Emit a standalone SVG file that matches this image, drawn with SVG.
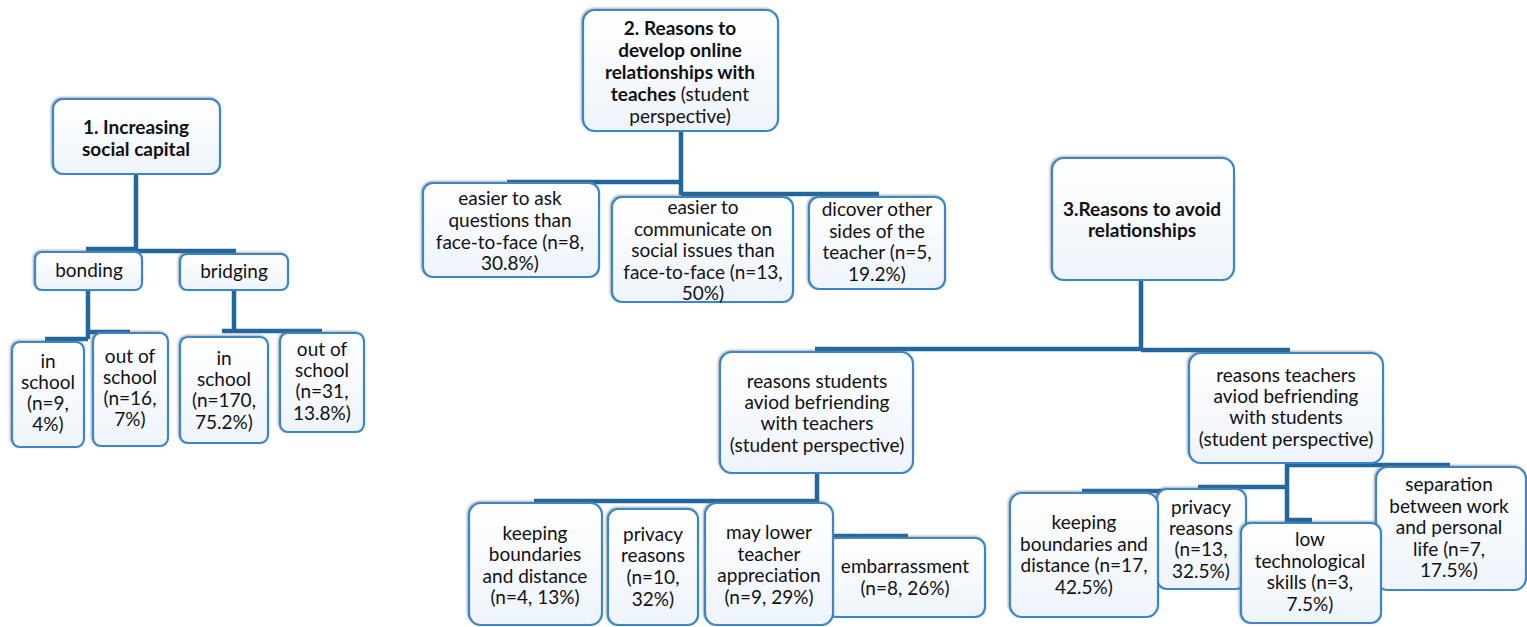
<svg xmlns="http://www.w3.org/2000/svg" width="1527" height="627" viewBox="0 0 1527 627">
<style>
.box{fill:url(#g);stroke:#3b86c6;stroke-width:2.2;filter:url(#sh)}
.t{font-family:Lato,"Liberation Sans",sans-serif;font-size:19px;fill:#111;text-anchor:middle}
.b{font-weight:bold}
.c{fill:none;stroke:#21669f;stroke-width:4.5}
</style>
<defs>
<linearGradient id="g" x1="0" y1="0" x2="0" y2="1">
<stop offset="0" stop-color="#ffffff"/>
<stop offset="1" stop-color="#eef4fb"/>
</linearGradient>
<filter id="sh" x="-10%" y="-10%" width="120%" height="120%">
<feDropShadow dx="-1" dy="-1" stdDeviation="1" flood-color="#666" flood-opacity="0.55"/>
</filter>
</defs>
<rect width="1527" height="627" fill="#fff"/>
<g id="connectors">
<path class="c" d="M136,174 V251 M86,249 H136 M136,251 H236"/>
<path class="c" d="M88,290 V339 M45,339 H88 M88,332 H130"/>
<path class="c" d="M234,290 V331 M222,331 H322"/>
<path class="c" d="M681,131 V195 M507,182 H681 M681,194 H879"/>
<path class="c" d="M1141,280 V350 M815,349 H1141 M1141,350 H1290"/>
<path class="c" d="M817,473 V502 M534,501 H817 M817,502 V536 H908"/>
<path class="c" d="M1287,463 V520 H1312 M1287,465 H1450 M1198,487 H1287 M1082,491 H1198"/>
</g>
<g id="n1"><rect class="box" x="53" y="99" width="167" height="75" rx="10"/>
<text class="t b" x="136" y="134">1. Increasing</text><text class="t b" x="136" y="156">social capital</text></g>
<g id="bonding"><rect class="box" x="35" y="252" width="107" height="38" rx="7"/>
<text class="t" x="89" y="277">bonding</text></g>
<g id="bridging"><rect class="box" x="180" y="254" width="108" height="36" rx="7"/>
<text class="t" x="234" y="278">bridging</text></g>
<g id="b_in"><rect class="box" x="12" y="342" width="72" height="105" rx="8"/>
<text class="t" x="48" y="368">in</text><text class="t" x="48" y="389">school</text><text class="t" x="48" y="410">(n=9,</text><text class="t" x="48" y="431">4%)</text></g>
<g id="b_out"><rect class="box" x="93" y="333" width="75" height="113" rx="8"/>
<text class="t" x="130" y="363">out of</text><text class="t" x="130" y="384">school</text><text class="t" x="130" y="405">(n=16,</text><text class="t" x="130" y="426">7%)</text></g>
<g id="br_in"><rect class="box" x="180" y="337" width="88" height="106" rx="8"/>
<text class="t" x="224" y="365">in</text><text class="t" x="224" y="386">school</text><text class="t" x="224" y="407">(n=170,</text><text class="t" x="224" y="429">75.2%)</text></g>
<g id="br_out"><rect class="box" x="280" y="333" width="84" height="99" rx="8"/>
<text class="t" x="322" y="356">out of</text><text class="t" x="322" y="377">school</text><text class="t" x="322" y="398">(n=31,</text><text class="t" x="322" y="420">13.8%)</text></g>
<g id="n2"><rect class="box" x="583" y="10" width="195" height="121" rx="12"/>
<text class="t b" x="680" y="35">2. Reasons to</text><text class="t b" x="680" y="57">develop online</text><text class="t b" x="680" y="79">relationships with</text>
<text class="t" x="680" y="101"><tspan class="b">teaches</tspan> (student</text><text class="t" x="680" y="123">perspective)</text></g>
<g id="ask"><rect class="box" x="423" y="183" width="176" height="94" rx="10"/>
<text class="t" x="510" y="205">easier to ask</text><text class="t" x="510" y="227">questions than</text><text class="t" x="510" y="249">face-to-face (n=8,</text><text class="t" x="510" y="270">30.8%)</text></g>
<g id="communicate"><rect class="box" x="612" y="197" width="181" height="105" rx="10"/>
<text class="t" x="703" y="214">easier to</text><text class="t" x="703" y="236">communicate on</text><text class="t" x="703" y="257">social issues than</text><text class="t" x="703" y="279">face-to-face (n=13,</text><text class="t" x="703" y="300">50%)</text></g>
<g id="discover"><rect class="box" x="809" y="197" width="136" height="92" rx="10"/>
<text class="t" x="877" y="216">dicover other</text><text class="t" x="877" y="238">sides of the</text><text class="t" x="877" y="259">teacher (n=5,</text><text class="t" x="877" y="281">19.2%)</text></g>
<g id="n3"><rect class="box" x="1052" y="158" width="182" height="122" rx="12"/>
<text class="t b" x="1142" y="216">3.Reasons to avoid</text><text class="t b" x="1142" y="237">relationships</text></g>
<g id="students"><rect class="box" x="720" y="352" width="193" height="121" rx="12"/>
<text class="t" x="817" y="388">reasons students</text><text class="t" x="817" y="409">aviod befriending</text><text class="t" x="817" y="430">with teachers</text><text class="t" x="817" y="452">(student perspective)</text></g>
<g id="teachers"><rect class="box" x="1189" y="353" width="194" height="110" rx="12"/>
<text class="t" x="1286" y="382">reasons teachers</text><text class="t" x="1286" y="403">aviod befriending</text><text class="t" x="1286" y="424">with students</text><text class="t" x="1286" y="446">(student perspective)</text></g>
<g id="s_keep"><rect class="box" x="469" y="503" width="133" height="122" rx="12"/>
<text class="t" x="535" y="540">keeping</text><text class="t" x="535" y="561">boundaries</text><text class="t" x="535" y="583">and distance</text><text class="t" x="535" y="604">(n=4, 13%)</text></g>
<g id="s_priv"><rect class="box" x="608" y="509" width="90" height="116" rx="10"/>
<text class="t" x="653" y="541">privacy</text><text class="t" x="653" y="562">reasons</text><text class="t" x="653" y="584">(n=10,</text><text class="t" x="653" y="606">32%)</text></g>
<g id="s_emb"><rect class="box" x="826" y="538" width="159" height="79" rx="10"/>
<text class="t" x="905" y="573">embarrassment</text><text class="t" x="905" y="595">(n=8, 26%)</text></g>
<g id="s_may"><rect class="box" x="705" y="503" width="128" height="122" rx="12"/>
<text class="t" x="769" y="539">may lower</text><text class="t" x="769" y="561">teacher</text><text class="t" x="769" y="582">appreciation</text><text class="t" x="769" y="604">(n=9, 29%)</text></g>
<g id="t_sep"><rect class="box" x="1376" y="467" width="150" height="123" rx="12"/>
<text class="t" x="1449" y="491">separation</text><text class="t" x="1449" y="513">between work</text><text class="t" x="1449" y="534">and personal</text><text class="t" x="1449" y="556">life (n=7,</text><text class="t" x="1449" y="577">17.5%)</text></g>
<g id="t_priv"><rect class="box" x="1157" y="489" width="89" height="100" rx="10"/>
<text class="t" x="1201" y="514">privacy</text><text class="t" x="1201" y="535">reasons</text><text class="t" x="1201" y="556">(n=13,</text><text class="t" x="1201" y="578">32.5%)</text></g>
<g id="t_keep"><rect class="box" x="1010" y="493" width="148" height="124" rx="12"/>
<text class="t" x="1084" y="529">keeping</text><text class="t" x="1084" y="551">boundaries and</text><text class="t" x="1084" y="572">distance (n=17,</text><text class="t" x="1084" y="594">42.5%)</text></g>
<g id="t_low"><rect class="box" x="1241" y="523" width="140" height="100" rx="10"/>
<text class="t" x="1310" y="546">low</text><text class="t" x="1310" y="568">technological</text><text class="t" x="1310" y="589">skills (n=3,</text><text class="t" x="1310" y="611">7.5%)</text></g>
</svg>
